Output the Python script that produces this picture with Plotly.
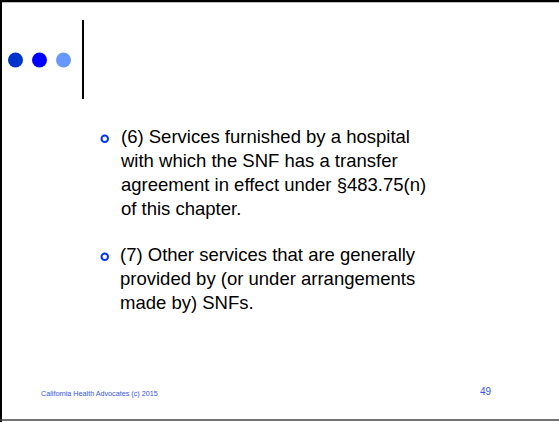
import plotly.graph_objects as go

W, H = 559, 422

bullets = [
    "(6) Services furnished by a hospital<br>with which the SNF has a transfer<br>agreement in effect under §483.75(n)<br>of this chapter.",
    "(7) Other services that are generally<br>provided by (or under arrangements<br>made by) SNFs.",
]
footer_text = "California Health Advocates (c) 2015"
page_number = "49"
dot_colors = ["#0033CC", "#0000FF", "#6699FF"]

FONT = "Liberation Sans, Arial, sans-serif"

fig = go.Figure()

# decorative dots
fig.add_trace(go.Scatter(
    x=[15.5, 39.5, 63.5], y=[60, 60, 60], mode="markers",
    marker=dict(size=15, color=dot_colors, line=dict(width=0)),
    hoverinfo="skip", showlegend=False,
))

shapes = [
    # vertical rule
    dict(type="line", x0=83, x1=83, y0=20, y1=99, line=dict(color="black", width=2)),
    # frame
    dict(type="line", x0=0, x1=W, y0=1, y1=1, line=dict(color="black", width=2.5)),
    dict(type="line", x0=1, x1=1, y0=0, y1=H, line=dict(color="black", width=2)),
    dict(type="line", x0=0, x1=W, y0=420, y1=420, line=dict(color="#444444", width=1.5)),
]

annotations = []
tops = [124, 242]
for txt, top in zip(bullets, tops):
    annotations.append(dict(
        x=118, y=top, xref="x", yref="y", text=txt, showarrow=False,
        xanchor="left", yanchor="top", align="left",
        font=dict(family=FONT, size=18.5, color="black"),
    ))
    shapes.append(dict(type="circle", x0=101.5, x1=108, y0=top + 11.5, y1=top + 18,
                       line=dict(color="#0033FF", width=2)))

annotations.append(dict(
    x=39, y=393, xref="x", yref="y", text=footer_text, showarrow=False,
    xanchor="left", yanchor="middle", font=dict(family=FONT, size=7.2, color="#3355EE"),
))
annotations.append(dict(
    x=478, y=391, xref="x", yref="y", text=page_number, showarrow=False,
    xanchor="left", yanchor="middle", font=dict(family=FONT, size=10, color="#3355EE"),
))

fig.update_layout(
    width=W, height=H, margin=dict(l=0, r=0, t=0, b=0),
    paper_bgcolor="white", plot_bgcolor="white",
    xaxis=dict(range=[0, W], visible=False, fixedrange=True),
    yaxis=dict(range=[H, 0], visible=False, fixedrange=True),
    shapes=shapes, annotations=annotations, showlegend=False,
)

fig.write_html(
    "out.html",
    config={"displayModeBar": False},
    post_script="document.body.style.margin='0';document.body.style.overflow='hidden';",
)
